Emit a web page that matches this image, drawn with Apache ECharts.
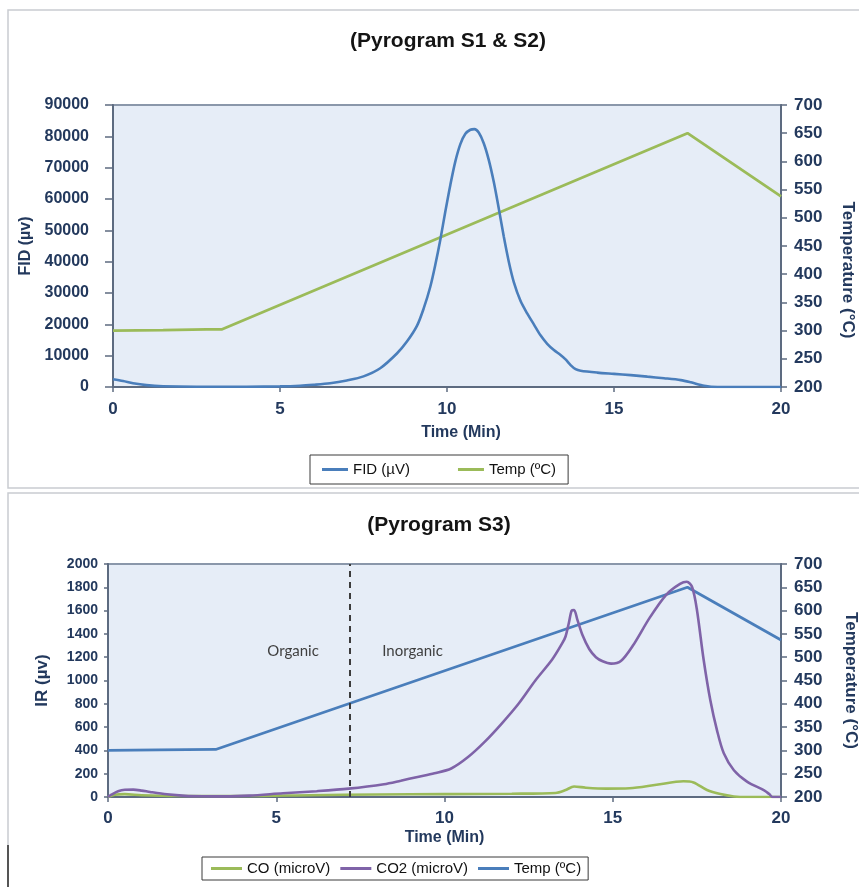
<!DOCTYPE html>
<html>
<head>
<meta charset="utf-8">
<script src="https://cdn.jsdelivr.net/npm/echarts@6/dist/echarts.min.js"></script>
<style>
  html, body { margin: 0; padding: 0; background: #ffffff; }
  #chart { width: 859px; height: 887px; }
</style>
</head>
<body>
<div id="chart"></div>
<script>
// ---- Pyrogram S1 & S2 (FID signal and oven temperature) ----
const fidPoints = [
  [0, 2450], [0.3, 1900], [0.6, 1200], [1.0, 600], [1.5, 250], [2.5, 100], [4, 100],
  [5, 200], [5.6, 400], [6.0, 700], [6.5, 1200], [7.0, 2100], [7.5, 3400], [8.0, 6000],
  [8.5, 10700], [8.8, 14500], [9.1, 19500], [9.3, 25000], [9.5, 32000], [9.65, 39000],
  [9.8, 47000], [9.95, 56000], [10.1, 64500], [10.25, 72000], [10.4, 77500], [10.55, 80800],
  [10.7, 82100], [10.82, 82300], [10.95, 81200], [11.1, 77800], [11.25, 72500], [11.4, 65500],
  [11.55, 57000], [11.7, 48000], [11.85, 40000], [12.0, 33500], [12.2, 27500], [12.4, 23500],
  [12.6, 20000], [12.8, 16500], [13.0, 13800], [13.2, 11800], [13.4, 10200], [13.55, 8800],
  [13.7, 7000], [13.85, 5700], [14.0, 5200], [14.5, 4600], [15.0, 4200], [15.5, 3800],
  [16.0, 3300], [16.5, 2800], [17.0, 2200], [17.3, 1500], [17.7, 400], [18.1, 0], [20, 0]
];
const tempTopPoints = [[0, 300], [1.5, 301], [2.8, 302], [3.25, 302], [17.2, 650], [20, 538]];

// ---- Pyrogram S3 (IR signals and oven temperature) ----
const co2Points = [
  [0, 0], [0.1, 20], [0.3, 50], [0.5, 62], [0.75, 63], [1.0, 55], [1.25, 43], [1.75, 23],
  [2.3, 10], [2.8, 6], [3.5, 5], [4.2, 12], [5.2, 32], [6.2, 50], [7.15, 72], [8.2, 110],
  [8.7, 140], [9.2, 172], [9.7, 203], [10.2, 245], [10.7, 343], [11.2, 475], [11.7, 630],
  [12.2, 800], [12.7, 1000], [13.2, 1180], [13.5, 1320], [13.6, 1380], [13.7, 1500],
  [13.78, 1600], [13.85, 1605], [13.95, 1520], [14.1, 1390], [14.3, 1270], [14.5, 1200],
  [14.7, 1165], [14.95, 1145], [15.25, 1170], [15.6, 1300], [16.1, 1540], [16.6, 1740],
  [17.0, 1830], [17.2, 1848], [17.36, 1800], [17.5, 1610], [17.7, 1180], [17.9, 830],
  [18.1, 570], [18.3, 375], [18.6, 230], [19.0, 130], [19.5, 57], [19.65, 25], [19.75, 0],
  [20, 0]
];
const coPoints = [
  [0, 0], [0.2, 20], [0.5, 25], [1.0, 15], [2, 8], [4, 8], [6, 15], [8, 22], [10, 25],
  [12, 28], [13.3, 35], [13.6, 60], [13.85, 90], [14.2, 80], [14.8, 72], [15.5, 75],
  [16.3, 105], [17.1, 135], [17.4, 125], [17.8, 60], [18.2, 25], [18.6, 5], [19, 0], [20, 0]
];
const tempBottomPoints = [[0, 300], [1.5, 301], [3.2, 302], [17.22, 650], [20, 537]];

// Boundary between organic and inorganic carbon release (min)
const organicBoundary = 7.17;
const zoneLabels = [
  { name: 'Organic', coord: [5.5, 1250] },
  { name: 'Inorganic', coord: [9.05, 1250] }
];

const timeTicks = { min: 0, max: 20, interval: 5 };

const FONT = '"Liberation Sans", Arial, sans-serif';
const NAVY = '#23395d';
const PLOT_BG = '#e6edf7';
const AXIS_LINE = '#5d6b80';

function xAxisFor(gridIndex, margin, nameGap, namePad) {
  return {
    type: 'value', gridIndex, min: timeTicks.min, max: timeTicks.max, interval: timeTicks.interval,
    name: 'Time (Min)', nameLocation: 'middle', nameGap,
    nameTextStyle: { fontFamily: FONT, fontWeight: 'bold', fontSize: 16, color: NAVY, padding: namePad },
    axisLine: { show: true, lineStyle: { color: AXIS_LINE, width: 2 } },
    axisTick: { show: true, length: 5, lineStyle: { color: AXIS_LINE, width: 1.5 } },
    axisLabel: { margin, fontFamily: FONT, fontWeight: 'bold', fontSize: 17, color: NAVY },
    splitLine: { show: false }
  };
}

function yAxisFor(gridIndex, pos, cfg) {
  return Object.assign({
    type: 'value', gridIndex, position: pos, nameLocation: 'middle',
    axisLine: { show: true, onZero: false, lineStyle: { color: AXIS_LINE, width: 2 } },
    axisTick: { show: true, length: 6, lineStyle: { color: AXIS_LINE, width: 1.5 } },
    splitLine: { show: false }
  }, cfg);
}

const plain = v => String(v);

const option = {
  backgroundColor: '#ffffff',
  animation: false,
  graphic: [
    { type: 'rect', shape: { x: 8, y: 10, width: 860, height: 478 }, style: { fill: 'none', stroke: '#c9ccd1', lineWidth: 1.5 } },
    { type: 'rect', shape: { x: 8, y: 493, width: 860, height: 400 }, style: { fill: 'none', stroke: '#c9ccd1', lineWidth: 1.5 } },
    { type: 'line', shape: { x1: 8, y1: 845, x2: 8, y2: 887 }, style: { stroke: '#555', lineWidth: 2 } }
  ],
  title: [
    { text: '(Pyrogram S1 & S2)', left: 443, top: 26, textAlign: 'center',
      textStyle: { fontFamily: FONT, fontWeight: 'bold', fontSize: 21, color: '#141414' } },
    { text: '(Pyrogram S3)', left: 434, top: 510, textAlign: 'center',
      textStyle: { fontFamily: FONT, fontWeight: 'bold', fontSize: 21, color: '#141414' } }
  ],
  legend: [
    {
      left: 310, top: 455, orient: 'horizontal',
      data: ['FID (µV)', 'Temp (ºC)'],
      icon: 'rect', itemWidth: 26, itemHeight: 3, itemGap: 48,
      padding: [7, 12, 7, 12],
      borderColor: '#3a3a3a', borderWidth: 1,
      textStyle: { fontFamily: FONT, fontSize: 15, color: '#111' }
    },
    {
      left: 202, top: 857, orient: 'horizontal',
      data: ['CO (microV)', 'CO2 (microV)', 'Temp (ºC) '],
      icon: 'rect', itemWidth: 31, itemHeight: 3, itemGap: 10,
      padding: [4, 7, 4, 9],
      borderColor: '#3a3a3a', borderWidth: 1,
      formatter: n => n.trim(),
      textStyle: { fontFamily: FONT, fontSize: 15, color: '#111' }
    }
  ],
  grid: [
    { left: 113, right: 78, top: 105, height: 282, show: true, backgroundColor: PLOT_BG,
      borderColor: '#8a97aa', borderWidth: 2, containLabel: false, outerBoundsMode: 'none' },
    { left: 108, right: 78, top: 564, height: 233, show: true, backgroundColor: PLOT_BG,
      borderColor: '#8a97aa', borderWidth: 2, containLabel: false, outerBoundsMode: 'none' }
  ],
  xAxis: [
    xAxisFor(0, 14, 38, [0, 0, 0, 28]),
    xAxisFor(1, 13, 33, [0, 0, 0, 0])
  ],
  yAxis: [
    yAxisFor(0, 'left', {
      min: 0, max: 90000, interval: 10000,
      name: 'FID (µv)', nameRotate: 90, nameGap: 78,
      nameTextStyle: { fontFamily: FONT, fontWeight: 'bold', fontSize: 16, color: NAVY },
      axisTick: { show: true, length: 8, lineStyle: { color: AXIS_LINE, width: 1.5 } },
      axisLabel: { margin: 24, fontFamily: FONT, fontWeight: 'bold', fontSize: 16, color: NAVY, formatter: plain }
    }),
    yAxisFor(0, 'right', {
      min: 200, max: 700, interval: 50,
      name: 'Temperature (°C)', nameRotate: -90, nameGap: 58,
      nameTextStyle: { fontFamily: FONT, fontWeight: 'bold', fontSize: 17, color: NAVY, padding: [0, 0, 0, 48] },
      axisLabel: { margin: 13, fontFamily: FONT, fontWeight: 'bold', fontSize: 17, color: NAVY, formatter: plain }
    }),
    yAxisFor(1, 'left', {
      min: 0, max: 2000, interval: 200,
      name: 'IR (µv)', nameRotate: 90, nameGap: 57,
      nameTextStyle: { fontFamily: FONT, fontWeight: 'bold', fontSize: 17, color: NAVY },
      axisTick: { show: true, length: 4, lineStyle: { color: AXIS_LINE, width: 1.5 } },
      axisLabel: { margin: 10, fontFamily: FONT, fontWeight: 'bold', fontSize: 14, color: NAVY, formatter: plain }
    }),
    yAxisFor(1, 'right', {
      min: 200, max: 700, interval: 50,
      name: 'Temperature (°C)', nameRotate: -90, nameGap: 61,
      nameTextStyle: { fontFamily: FONT, fontWeight: 'bold', fontSize: 17, color: NAVY },
      axisLabel: { margin: 13, fontFamily: FONT, fontWeight: 'bold', fontSize: 17, color: NAVY, formatter: plain }
    })
  ],
  series: [
    { name: 'FID (µV)', type: 'line', xAxisIndex: 0, yAxisIndex: 0, data: fidPoints,
      showSymbol: false, smooth: 0.3, z: 3,
      lineStyle: { color: '#4a7ebb', width: 2.6 }, itemStyle: { color: '#4a7ebb' } },
    { name: 'Temp (ºC)', type: 'line', xAxisIndex: 0, yAxisIndex: 1, data: tempTopPoints,
      showSymbol: false, z: 2,
      lineStyle: { color: '#9bbb59', width: 2.8 }, itemStyle: { color: '#9bbb59' } },
    { name: 'CO (microV)', type: 'line', xAxisIndex: 1, yAxisIndex: 2, data: coPoints,
      showSymbol: false, smooth: 0.3, z: 2,
      lineStyle: { color: '#9bbb59', width: 2.6 }, itemStyle: { color: '#9bbb59' } },
    { name: 'CO2 (microV)', type: 'line', xAxisIndex: 1, yAxisIndex: 2, data: co2Points,
      showSymbol: false, smooth: 0.3, z: 3,
      lineStyle: { color: '#7f63a8', width: 2.6 }, itemStyle: { color: '#7f63a8' },
      markLine: {
        silent: true, symbol: ['none', 'none'], label: { show: false },
        lineStyle: { color: '#3c3c3c', type: [6, 5], width: 2 },
        data: [{ xAxis: organicBoundary }]
      },
      markPoint: {
        silent: true, symbol: 'circle', symbolSize: 0,
        label: { show: true, position: 'inside', fontFamily: 'Lato, "Open Sans", sans-serif', fontSize: 15, color: '#3f3f3f',
          formatter: p => p.name },
        data: zoneLabels.map(z => ({ name: z.name, coord: z.coord }))
      }
    },
    { name: 'Temp (ºC) ', type: 'line', xAxisIndex: 1, yAxisIndex: 3, data: tempBottomPoints,
      showSymbol: false, z: 2,
      lineStyle: { color: '#4a7ebb', width: 2.8 }, itemStyle: { color: '#4a7ebb' } }
  ]
};

const chart = echarts.init(document.getElementById('chart'), null, { renderer: 'canvas' });
chart.setOption(option);
</script>
</body>
</html>
